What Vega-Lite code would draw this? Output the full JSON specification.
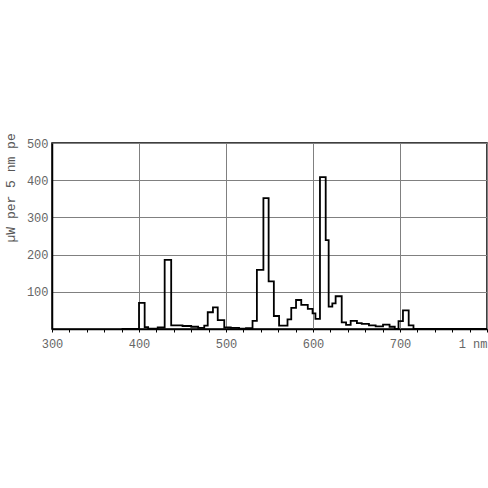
{
  "$schema": "https://vega.github.io/schema/vega-lite/v6.json",
  "width": 435,
  "height": 186,
  "autosize": "none",
  "padding": {"left": 52, "top": 143, "right": 1, "bottom": 159},
  "background": "white",
  "config": {"view": {"stroke": "black", "strokeWidth": 1.5}},
  "data": {
    "values": [
      {"nm": 380, "uw": 0},
      {"nm": 400, "uw": 70},
      {"nm": 406.5, "uw": 5},
      {"nm": 410.5, "uw": 1},
      {"nm": 421.5, "uw": 4},
      {"nm": 429.5, "uw": 186},
      {"nm": 437, "uw": 10},
      {"nm": 450, "uw": 8},
      {"nm": 460, "uw": 6},
      {"nm": 468, "uw": 3},
      {"nm": 475, "uw": 9},
      {"nm": 479, "uw": 45},
      {"nm": 485, "uw": 58},
      {"nm": 490.5, "uw": 24},
      {"nm": 498, "uw": 4},
      {"nm": 505.5, "uw": 3},
      {"nm": 515, "uw": 1},
      {"nm": 523, "uw": 2},
      {"nm": 530.5, "uw": 22},
      {"nm": 535.5, "uw": 159},
      {"nm": 543, "uw": 352},
      {"nm": 549, "uw": 128},
      {"nm": 555, "uw": 35},
      {"nm": 561, "uw": 9},
      {"nm": 570.7, "uw": 26},
      {"nm": 575, "uw": 57},
      {"nm": 580.5, "uw": 78},
      {"nm": 586.5, "uw": 65},
      {"nm": 594, "uw": 54},
      {"nm": 599.5, "uw": 42},
      {"nm": 602.8, "uw": 27},
      {"nm": 608, "uw": 408},
      {"nm": 614.6, "uw": 239},
      {"nm": 618, "uw": 60},
      {"nm": 622.2, "uw": 69},
      {"nm": 626, "uw": 88},
      {"nm": 633, "uw": 18},
      {"nm": 638, "uw": 11},
      {"nm": 643.3, "uw": 22},
      {"nm": 650.5, "uw": 16},
      {"nm": 656, "uw": 14},
      {"nm": 664.3, "uw": 10},
      {"nm": 672, "uw": 7},
      {"nm": 680.5, "uw": 12},
      {"nm": 688, "uw": 6},
      {"nm": 694, "uw": 0},
      {"nm": 698.3, "uw": 21},
      {"nm": 703.4, "uw": 50},
      {"nm": 710, "uw": 10},
      {"nm": 715.5, "uw": 0},
      {"nm": 800, "uw": 0}
    ]
  },
  "mark": {"type": "line", "interpolate": "step-after", "color": "black", "strokeWidth": 1.8, "clip": false},
  "encoding": {
    "x": {
      "field": "nm",
      "type": "quantitative",
      "scale": {"domain": [300, 800], "nice": false, "zero": false},
      "axis": {
        "title": null,
        "values": [300, 320, 340, 360, 380, 400, 420, 440, 460, 480, 500, 520, 540, 560, 580, 600, 620, 640, 660, 680, 700, 720, 740, 760, 780, 800],
        "format": "d",
        "labelExpr": "datum.value == 800 ? '1 nm' : (datum.value % 100 == 0 ? datum.label : '')",
        "labelAlign": {"condition": {"test": "datum.value == 800", "value": "right"}, "value": "center"},
        "labelFont": "Liberation Mono",
        "labelFontSize": 12,
        "labelColor": "#666666",
        "labelPadding": 6,
        "labelOverlap": false,
        "labelBound": false,
        "labelFlush": false,
        "tickSize": 3,
        "tickColor": "black",
        "domainColor": "black",
        "domainWidth": 1.5,
        "grid": true,
        "gridColor": {"condition": {"test": "datum.value % 100 == 0", "value": "#808080"}, "value": "transparent"},
        "gridWidth": 1
      }
    },
    "y": {
      "field": "uw",
      "type": "quantitative",
      "scale": {"domain": [0, 500], "nice": false},
      "axis": {
        "values": [100, 200, 300, 400, 500],
        "ticks": false,
        "labelFont": "Liberation Mono",
        "labelFontSize": 12,
        "labelColor": "#666666",
        "labelPadding": 4,
        "labelBound": false,
        "labelFlush": false,
        "domainColor": "black",
        "domainWidth": 1.5,
        "grid": true,
        "gridColor": "#808080",
        "gridWidth": 1,
        "title": "µW per 5 nm pe",
        "titleFont": "Liberation Mono",
        "titleFontSize": 13,
        "titleFontWeight": "normal",
        "titleColor": "#555555",
        "titleAngle": -90,
        "titleAlign": "left",
        "titleBaseline": "middle",
        "titleX": -42,
        "titleY": 99
      }
    }
  }
}
